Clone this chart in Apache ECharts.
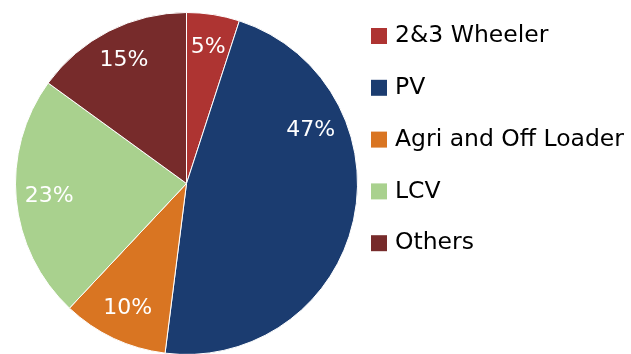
<!DOCTYPE html>
<html>
<head>
<meta charset="utf-8">
<script src="https://cdn.jsdelivr.net/npm/echarts@6/dist/echarts.min.js"></script>
<style>
  html, body { margin: 0; padding: 0; background: #fff; }
  #chart { width: 631px; height: 354px; }
</style>
</head>
<body>
<div id="chart"></div>
<script>
// Segment shares (%)
const categories = ['2&3 Wheeler', 'PV', 'Agri and Off Loader', 'LCV', 'Others'];
const shares = [5, 47, 10, 23, 15];
const colors = ['#AE3432', '#1B3C70', '#D97522', '#A9D18E', '#772B2B'];

const CENTER = [186.5, 183.5];
const RADIUS = 171;
const LABEL_RADIUS = 135;
// best-fit label angle (degrees clockwise from 12 o'clock) for the large PV slice
const PV_LABEL_ANGLE = 67;

const sliceData = categories.map((name, i) => ({
  name: name,
  value: shares[i],
  itemStyle: { color: colors[i] }
}));

const chart = echarts.init(document.getElementById('chart'), null, { renderer: 'canvas' });

chart.setOption({
  animation: false,
  backgroundColor: '#ffffff',
  legend: {
    orient: 'vertical',
    left: 371,
    top: 24,
    padding: 0,
    icon: 'rect',
    itemWidth: 16,
    itemHeight: 16,
    itemGap: 27.8,
    selectedMode: false,
    itemStyle: { borderWidth: 0 },
    data: categories,
    textStyle: {
      fontFamily: 'DejaVu Sans',
      fontSize: 23.5,
      lineHeight: 24,
      color: '#000000',
      padding: [0, 0, 0, 3]
    }
  },
  series: [
    {
      // slices
      type: 'pie',
      center: CENTER,
      radius: [0, RADIUS],
      startAngle: 90,
      clockwise: true,
      silent: true,
      label: { show: false },
      labelLine: { show: false },
      itemStyle: { borderColor: '#ffffff', borderWidth: 1 },
      data: sliceData
    },
    {
      // percentage labels, placed in the outer band of the pie
      type: 'pie',
      center: CENTER,
      radius: [2 * LABEL_RADIUS - RADIUS, RADIUS],
      startAngle: 90,
      clockwise: true,
      silent: true,
      legendHoverLink: false,
      itemStyle: { color: 'rgba(0,0,0,0)', borderWidth: 0 },
      label: {
        show: true,
        position: 'inside',
        formatter: '{c}%',
        fontFamily: 'DejaVu Sans',
        fontSize: 22,
        color: '#ffffff'
      },
      labelLine: { show: false },
      labelLayout: function (params) {
        if (params.dataIndex !== 1) return {};
        const a = PV_LABEL_ANGLE * Math.PI / 180;
        const w = params.labelRect.width;
        const h = params.labelRect.height;
        return {
          x: CENTER[0] + LABEL_RADIUS * Math.sin(a) - w / 2,
          y: CENTER[1] - LABEL_RADIUS * Math.cos(a) - h / 2,
          align: 'left',
          verticalAlign: 'top'
        };
      },
      data: categories.map((name, i) => ({ name: name, value: shares[i] }))
    }
  ]
});
</script>
</body>
</html>
